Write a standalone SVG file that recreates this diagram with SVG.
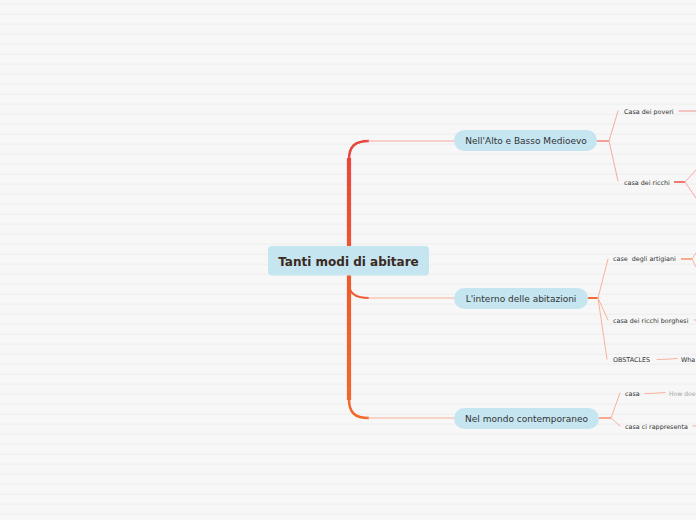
<svg xmlns="http://www.w3.org/2000/svg" width="696" height="520" viewBox="0 0 696 520">
<defs>
<pattern id="stripes" x="0" y="0" width="696" height="10" patternUnits="userSpaceOnUse">
<rect width="696" height="10" fill="#f7f7f7"/>
<rect y="3.5" width="696" height="1.2" fill="#efefef"/>
</pattern>
<linearGradient id="trunk" x1="0" y1="141" x2="0" y2="418" gradientUnits="userSpaceOnUse">
<stop offset="0" stop-color="#e8453c"/>
<stop offset="0.5" stop-color="#ee5a30"/>
<stop offset="1" stop-color="#f26a2a"/>
</linearGradient>
<style>
.node rect{fill:#c5e5f0}
.main text{font-family:"DejaVu Sans",Verdana,sans-serif;font-size:9px;fill:#333;text-anchor:middle}
.sub text{font-family:"DejaVu Sans",Verdana,sans-serif;font-size:6.4px;fill:#333}
.sub text.faint{fill:#aaa}
.thin{fill:none;stroke-width:1;stroke-linecap:round}
.stub{fill:none;stroke-width:2}
.r{stroke:#f7a9a0}
.o{stroke:#f9b29c}
</style>
</defs>
<rect width="696" height="520" fill="url(#stripes)"/>

<g id="connectors">
<path d="M349,158 L349,400" stroke="url(#trunk)" stroke-width="4.2" fill="none"/>
<path d="M349,160 C349,146 355,141 369,141" stroke="#e8453c" stroke-width="2.5" fill="none"/>
<path d="M349,284 C349,294 356,298 369,298" stroke="#ee5a30" stroke-width="2" fill="none"/>
<path d="M349,399 C349,413 355,418 369,418" stroke="#f26a2a" stroke-width="2.5" fill="none"/>
<path class="thin" d="M368,141 L455,141" stroke="#f7a9a0"/>
<path class="thin" d="M368,298 L455,298" stroke="#f9ae96"/>
<path class="thin" d="M368,418 L455,418" stroke="#f9ae96"/>

<path class="stub" d="M597,141 L609,141" stroke="#f5a19a"/>
<path class="thin r" d="M609,141 L618,111 M609,141 L618,181"/>
<path class="thin" d="M679,111 L696,111" stroke="#f3938c"/>
<path class="stub" d="M674,182 L685,182" stroke="#f07a70" stroke-width="1.5"/>
<path class="thin" d="M685,182 L696,170 M685,182 L696,198" stroke="#f7a9a0"/>

<path class="stub" d="M588,298 L598,298" stroke="#f26c3c"/>
<path class="thin o" d="M598,298 L608,259 M598,298 L608,320 M598,298 L607,359"/>
<path class="stub" d="M681,259 L692,259" stroke="#f9a98e" stroke-width="1.5"/>
<path class="thin o" d="M692,259 L696,253 M692,259 L696,267"/>
<path class="thin o" d="M694,320 L696,320"/>
<path class="thin o" d="M657,359.5 Q667,359.5 677,358.5"/>

<path class="stub" d="M599,418 L611,418" stroke="#f9a98e"/>
<path class="thin o" d="M611,418 L620,393 M611,418 L620,426"/>
<path class="thin o" d="M645,393.5 Q655,393.5 665,392.5"/>
<path class="thin o" d="M693,426 L696,426"/>
</g>

<g id="root" class="node">
<rect x="268" y="246" width="161" height="29.5" rx="4"/>
<text x="348.5" y="266" font-family="'DejaVu Sans',Verdana,sans-serif" font-size="12" font-weight="bold" fill="#3b2a22" text-anchor="middle">Tanti modi di abitare</text>
</g>

<g id="n1" class="node main">
<rect x="454" y="130" width="143" height="21" rx="10.5"/>
<text x="526" y="144.3">Nell'Alto e Basso Medioevo</text>
</g>
<g id="n2" class="node main">
<rect x="454" y="288" width="134" height="21" rx="10.5"/>
<text x="521" y="301.5">L'interno delle abitazioni</text>
</g>
<g id="n3" class="node main">
<rect x="454" y="408" width="145" height="21" rx="10.5"/>
<text x="526.5" y="421.8">Nel mondo contemporaneo</text>
</g>

<g id="s1" class="sub"><text x="624" y="113.5">Casa dei poveri</text></g>
<g id="s2" class="sub"><text x="624" y="184.5">casa dei ricchi</text></g>
<g id="s3" class="sub"><text x="613" y="261" xml:space="preserve">case  degli artigiani</text></g>
<g id="s4" class="sub"><text x="613" y="322.5">casa dei ricchi borghesi</text></g>
<g id="s5" class="sub"><text x="613" y="361.5">OBSTACLES</text></g>
<g id="s6" class="sub"><text x="681" y="361.5">Wha</text></g>
<g id="s7" class="sub"><text x="625" y="395.5">casa</text></g>
<g id="s8" class="sub"><text class="faint" x="669" y="395.5" textLength="26.5" lengthAdjust="spacingAndGlyphs">How doe</text></g>
<g id="s9" class="sub"><text x="625" y="428.5">casa ci rappresenta</text></g>
</svg>
